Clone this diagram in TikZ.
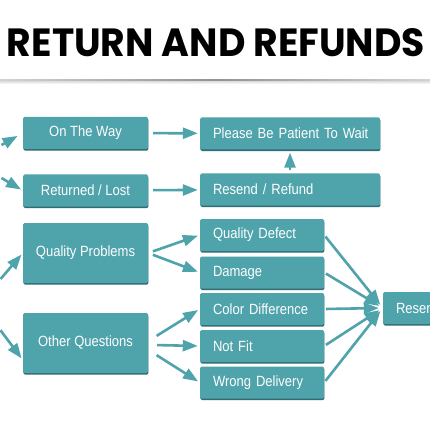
\documentclass[tikz,border=0pt]{standalone}
\usepackage{fontspec}
\setmainfont{Liberation Sans}[FakeStretch=0.88]
\newfontfamily\titlefont{Poppins}
\usetikzlibrary{arrows.meta,shadows,calc}
\definecolor{tealbox}{HTML}{4FA3AB}
\definecolor{tealshade}{HTML}{2F6D73}

\begin{document}
\begin{tikzpicture}[x=1pt, y=-1pt,
    box/.style={fill=tealbox, rounded corners=1.5pt, text=white, inner sep=0pt,
      font=\fontsize{14.8}{16}\selectfont, minimum height=32pt,
      drop shadow={shadow xshift=0.4pt, shadow yshift=-1.6pt, fill=tealshade, opacity=1}},
    cbox/.style={box, minimum width=125pt},
    lbox/.style={box, text width=#1, align=left, inner xsep=13pt},
    flow/.style={draw=tealbox, line width=2.6pt, -{Triangle[length=15pt,width=11pt]},
      shorten >=2pt, shorten <=4pt}]
    \clip (0,0) rectangle (430,430);
    \fill[white] (0,0) rectangle (430,430);

    % Title and rule
    \node (title) at (216,43) {\titlefont\bfseries\resizebox{418pt}{28pt}{RETURN AND REFUNDS}};
    \shade[left color=gray!35, right color=gray!35, middle color=gray!85] (0,79.3) rectangle (430,81.3);
    \shade[top color=gray!25, bottom color=white] (0,81.3) rectangle (430,84);

    % Left column
    \node[cbox] (way) at (85.5,133) {On The Way};
    \node[cbox] (lost) at (85.5,190.5) {Returned / Lost};
    \node[cbox, minimum height=60pt] (quality) at (85.5,253) {Quality Problems};
    \node[cbox, minimum height=60pt] (other) at (85.5,343) {Other Questions};

    % Right column
    \node[lbox=154pt] (wait) at (290,133.5) {\mbox{Please Be Patient To Wait}};
    \node[lbox=154pt] (refund) at (290,189.5) {Resend / Refund};
    \node[lbox=98pt] (defect) at (262,235) {Quality Defect};
    \node[lbox=98pt] (damage) at (262,272.5) {Damage};
    \node[lbox=98pt] (color) at (262,309) {\mbox{Color Difference}};
    \node[lbox=98pt] (notfit) at (262,346) {Not Fit};
    \node[lbox=98pt] (wrong) at (262,382.5) {Wrong Delivery};
    \node[lbox=100pt] (resend) at (446,308) {Resend};

    % Incoming arrows from the left edge
    \coordinate (inway) at (-2,147);
    \coordinate (inlost) at (-2,176);
    \coordinate (inquality) at (-2,282);
    \coordinate (inother) at (-2,327);
    \draw[flow, shorten >=6pt] (inway) -- (way.west);
    \draw[flow] (inlost) -- (lost.west);
    \draw[flow] (inquality) -- (quality.west);
    \draw[flow] (inother) -- ($(other.west)+(0,17)$);

    % Upper rows
    \draw[flow, shorten <=5pt] (way) -- (wait);
    \draw[flow, shorten <=5pt] (lost) -- (refund);
    \draw[flow, shorten >=3pt, shorten <=3pt] (refund) -- (wait);

    % Quality problems
    \draw[flow, shorten <=5pt] (quality.east) -- (defect.west);
    \draw[flow, shorten <=5pt] (quality.east) -- (damage.west);

    % Other questions
    \draw[flow] ($(other.east)+(5,-5)$) -- (color.west);
    \draw[flow] ($(other.east)+(5,2)$) -- (notfit.west);
    \draw[flow] ($(other.east)+(5,10)$) -- (wrong.west);

    % All lead to resend
    \foreach \src in {defect,damage,color,notfit,wrong}
      \draw[flow, shorten <=2pt, shorten >=4pt] (\src.east) -- (resend.west);
\end{tikzpicture}
\end{document}
